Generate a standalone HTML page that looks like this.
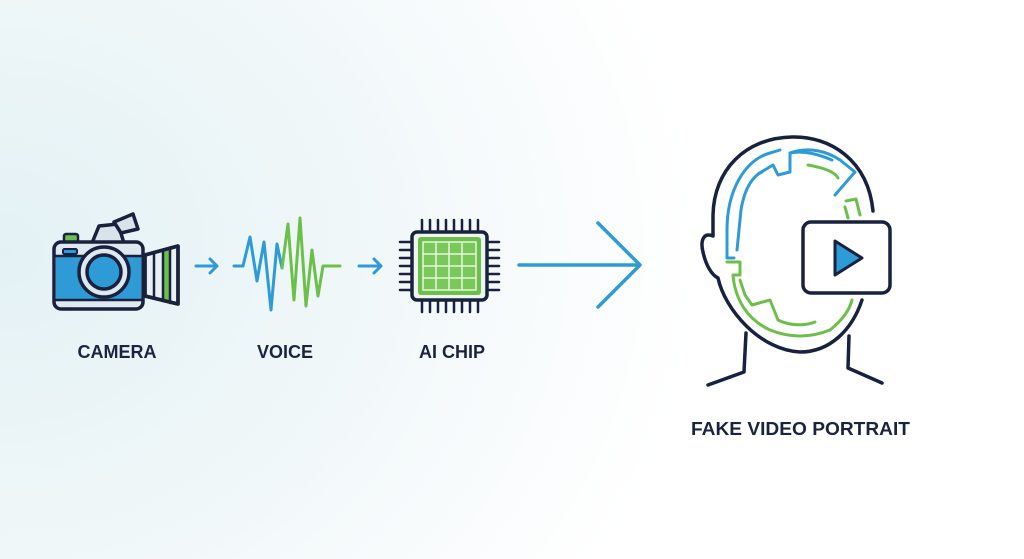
<!DOCTYPE html>
<html><head><meta charset="utf-8"><style>
html,body{margin:0;padding:0;width:1024px;height:559px;overflow:hidden}
body{background:radial-gradient(ellipse 700px 600px at 0px 250px,#e3f1f5 0%,#f0f7f9 50%,#ffffff 100%)}
svg{position:absolute;left:0;top:0}
text{font-family:"Liberation Sans",sans-serif;font-weight:bold;fill:#1b2340;font-size:18px}
</style></head><body>
<svg width="1024" height="559" viewBox="0 0 1024 559">
<g stroke="#18213d" stroke-width="3.5" stroke-linejoin="round" stroke-linecap="round">
 <path d="M92 243 L99 226 L118 224 L124 243 Z" fill="#d9e4ea"/>
 <path d="M114 222 L133 214 L138 229 L121 233 Z" fill="#d9e4ea"/>
 <rect x="64" y="234" width="14" height="8" rx="2" fill="#6cc04a" stroke-width="2.5"/>
 <path d="M145 255 L178 246 L178 304 L145 296 Z" fill="#eaf0f3"/>
 <rect x="163" y="250" width="6" height="50" fill="#6cc04a" stroke="none"/>
 <path d="M154 253 V298 M163 250 V301 M170 248 V303" stroke-width="2.5"/>
 <path d="M145 255 L178 246 L178 304 L145 296 Z" fill="none"/>
 <rect x="54" y="242" width="89" height="67" rx="7" fill="#dfe8ee"/>
 <rect x="56" y="256" width="85" height="44" fill="#2f9bd6" stroke="none"/>
 <path d="M54 256 H143 M54 300 H143" stroke-width="2.5"/>
 <rect x="63" y="249" width="14" height="5" rx="1.5" fill="#2f9bd6" stroke-width="2"/>
 <circle cx="104" cy="272" r="25" fill="#dfe8ee"/>
 <circle cx="104" cy="272" r="17" fill="#2f9bd6"/>
</g>
<g stroke="#2f9bd6" stroke-width="3" fill="none" stroke-linecap="round" stroke-linejoin="round">
 <path d="M196 266 H217 M210 259 L217 266 L210 273"/>
 <path d="M359 266 H381 M374 259 L381 266 L374 273"/>
 <path d="M519 265 H639 M598 223 L640 265 L598 307" stroke-width="3.5"/>
 <path d="M234 266 H243 L250 237 L257 281 L264 242 L271 310 L277 244 L282 268"/>
</g>
<path d="M282 268 L288 224 L294 300 L300 218 L306 306 L312 250 L318 296 L323 266 L326 266 H340" stroke="#6cc04a" stroke-width="3" fill="none" stroke-linecap="round" stroke-linejoin="round"/>
<g stroke="#18213d" stroke-width="2.5" stroke-linecap="round">
 <path d="M422 220V232 M430 220V232 M438 220V232 M446 220V232 M454 220V232 M462 220V232 M470 220V232 M478 220V232"/>
 <path d="M422 300V312 M430 300V312 M438 300V312 M446 300V312 M454 300V312 M462 300V312 M470 300V312 M478 300V312"/>
 <path d="M400 242H412 M400 250H412 M400 258H412 M400 266H412 M400 274H412 M400 282H412 M400 290H412"/>
 <path d="M487 242H499 M487 250H499 M487 258H499 M487 266H499 M487 274H499 M487 282H499 M487 290H499"/>
 <rect x="412" y="232" width="75" height="68" rx="5" fill="#eef5f0" stroke-width="3.5"/>
 <rect x="418" y="237" width="63" height="58" rx="3" fill="#6cc04a" stroke="none"/>
 <rect x="423" y="242" width="53" height="48" fill="#78c85a" stroke="#e8f5e0" stroke-width="1.5"/>
 <path d="M436 242V290 M449 242V290 M462 242V290 M423 254H476 M423 266H476 M423 278H476" stroke="#e8f5e0" stroke-width="1.5"/>
</g>
<g fill="none" stroke="#18213d" stroke-width="3.5" stroke-linecap="round" stroke-linejoin="round">
 <path d="M873 211 C868 160 830 136 792 137 C745 138 714 170 713 215 L713 236 C704 232 700 240 703 252 C706 266 712 275 718 278 C725 310 760 350 800 352 C830 352 852 330 862 300"/>
 <path d="M746 333 L744 372 L708 385 M849 336 L848 368 L882 383"/>
 <rect x="803" y="222" width="87" height="71" rx="8" fill="#fff"/>
 <path d="M835 241 L862 258 L835 275 Z" fill="#2f9bd6" stroke-width="3"/>
</g>
<g fill="none" stroke-width="3" stroke-linecap="round" stroke-linejoin="round">
 <path d="M734 258 L727 258 L727 230 C727 190 745 160 770 153 L780 150" stroke="#2f9bd6"/>
 <path d="M737 250 L741 210 C745 185 755 175 762 172" stroke="#2f9bd6"/>
 <path d="M758 174 L773 165 L778 175 L790 172 L790 153 C805 150 820 155 832 160" stroke="#2f9bd6"/>
 <path d="M790 153 C810 146 828 152 840 160 L855 172 L835 195" stroke="#2f9bd6"/>
 <path d="M808 165 C825 168 835 172 838 178" stroke="#6cc04a"/>
 <path d="M846 201 L856 199 L860 215 M845 207 L848 218" stroke="#6cc04a"/>
 <path d="M727 262 L740 262 L740 275 L733 275 C735 300 748 320 770 330 C790 338 810 338 830 330" stroke="#6cc04a"/>
 <path d="M740 280 L745 295 L752 305 L770 300 L778 320 C790 326 805 326 815 322" stroke="#6cc04a"/>
 <path d="M830 330 C845 318 850 308 852 300" stroke="#6cc04a"/>
</g>
<text x="117" y="358" text-anchor="middle">CAMERA</text>
<text x="285" y="358" text-anchor="middle">VOICE</text>
<text x="452" y="358" text-anchor="middle">AI CHIP</text>
<text x="691" y="435" textLength="219" lengthAdjust="spacingAndGlyphs">FAKE VIDEO PORTRAIT</text>
</svg>
</body></html>
